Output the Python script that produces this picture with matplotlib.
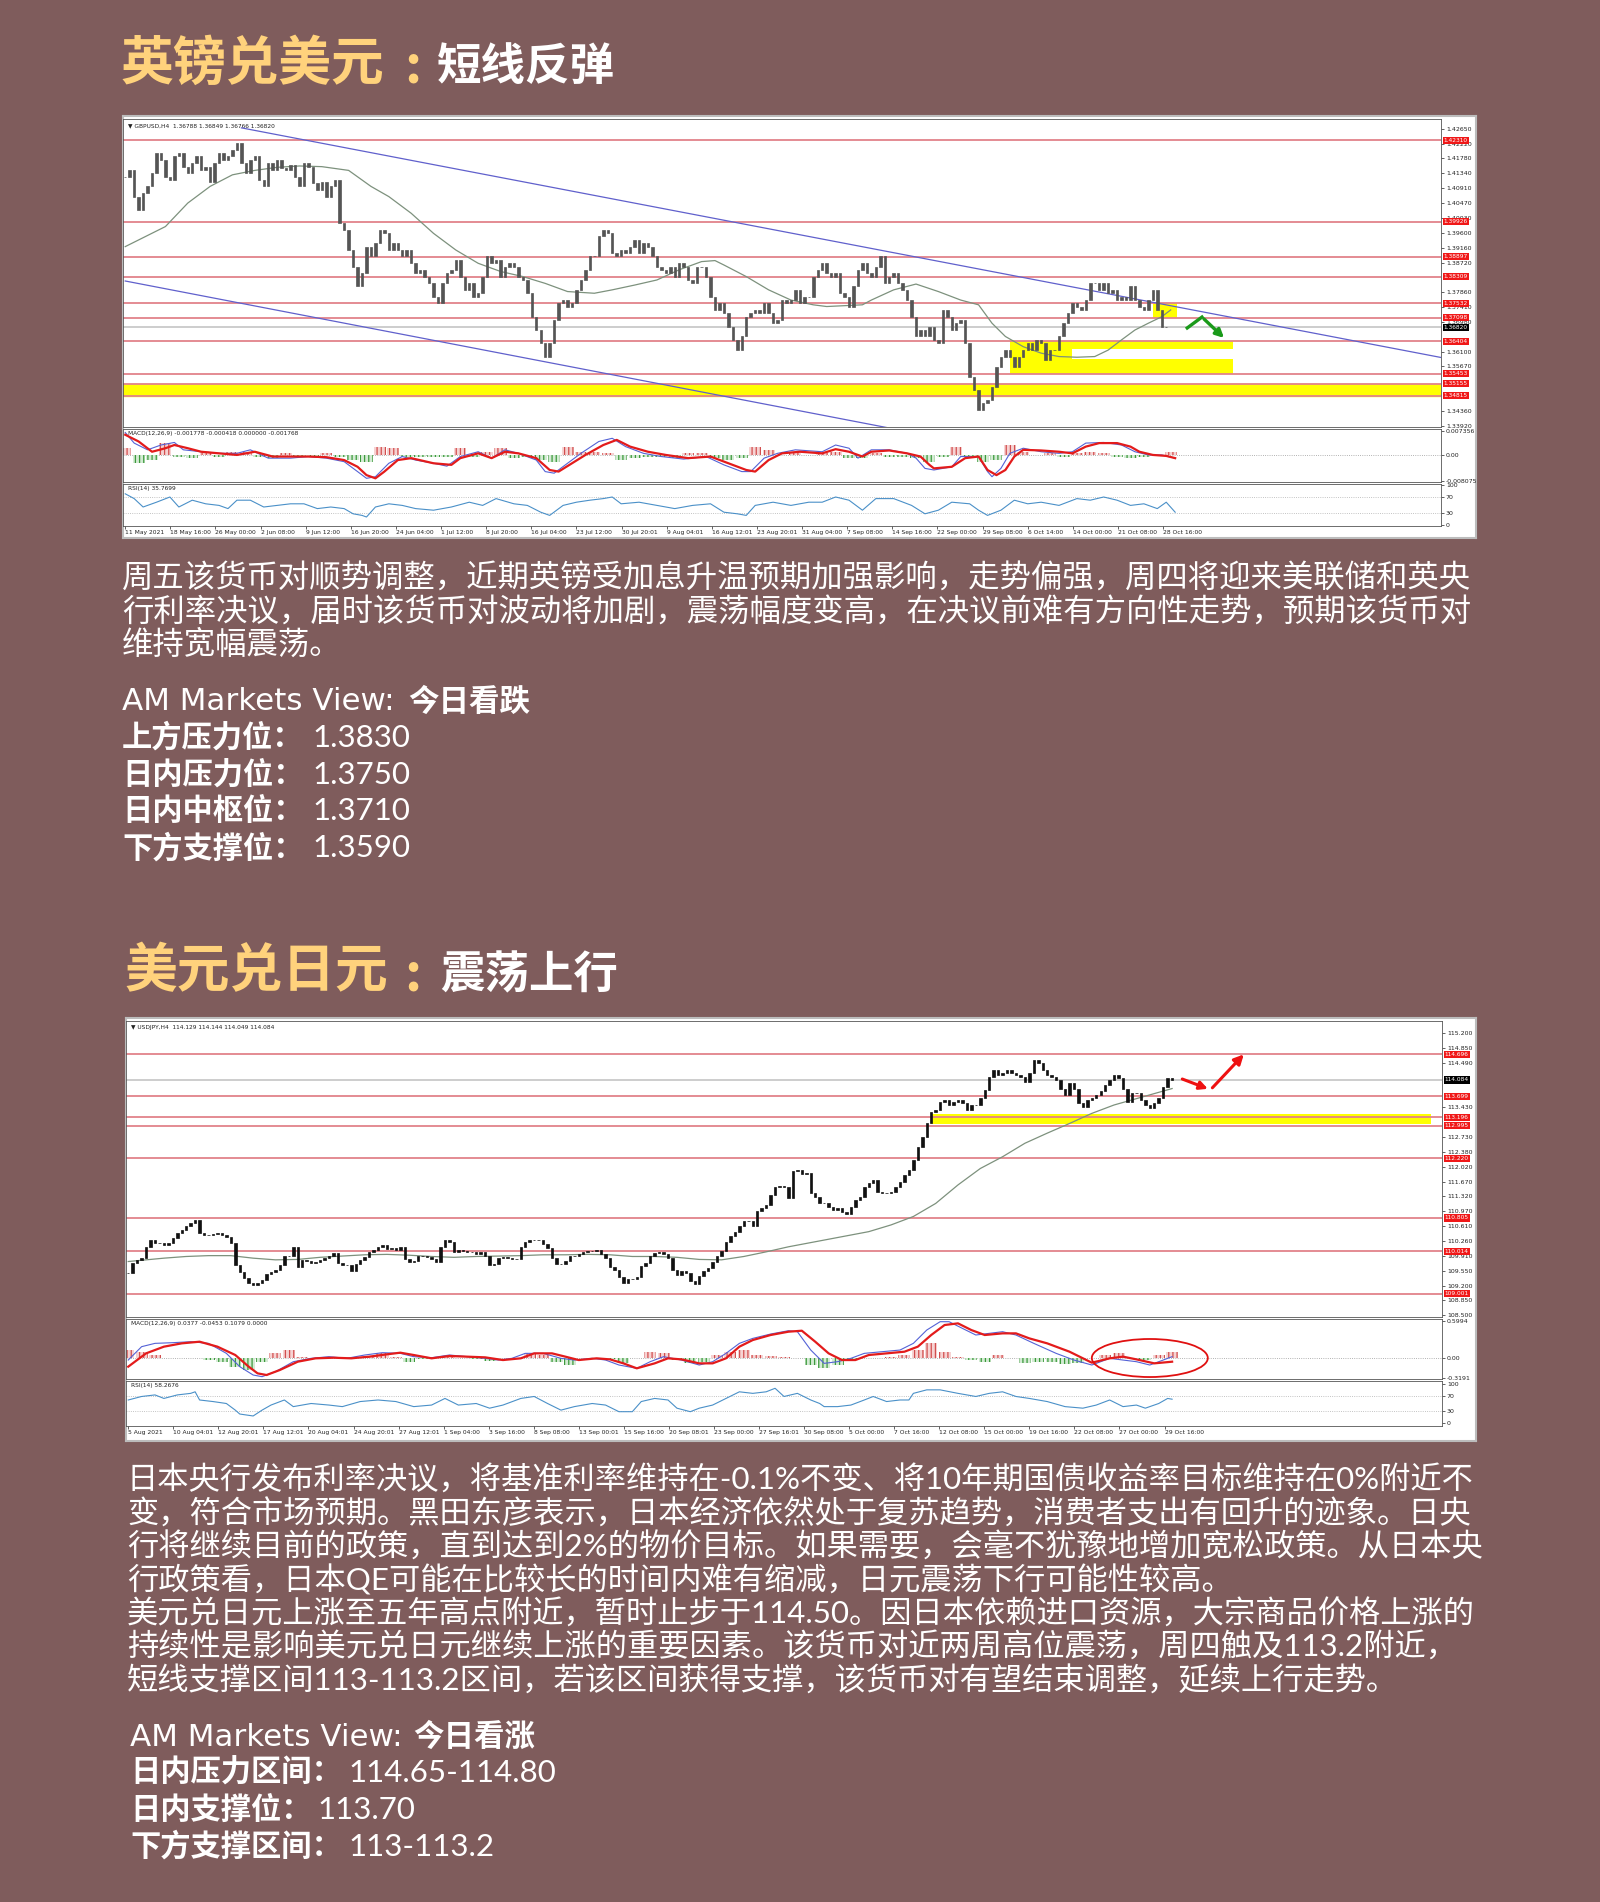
import numpy as np
import matplotlib.pyplot as plt
from matplotlib.patches import Ellipse, Rectangle

# --- GBPUSD H4 ---
gbp_close = [
    1.4125, 1.4145, 1.4066, 1.4027, 1.4076, 1.4096, 1.4135, 1.4194, 1.4174, 1.4125,
    1.4115, 1.4184, 1.4194, 1.4154, 1.4135, 1.4164, 1.4184, 1.4145, 1.4154, 1.4110,
    1.4164, 1.4194, 1.4174, 1.4184, 1.4203, 1.4223, 1.4164, 1.4135, 1.4174, 1.4184,
    1.4115, 1.4096, 1.4164, 1.4145, 1.4174, 1.4150, 1.4145, 1.4159, 1.4125, 1.4096,
    1.4164, 1.4154, 1.4105, 1.4086, 1.4110, 1.4066, 1.4096, 1.4115, 1.3988, 1.3968,
    1.3909, 1.3860, 1.3802, 1.3841, 1.3919, 1.3890, 1.3929, 1.3968, 1.3958, 1.3909,
    1.3929, 1.3909, 1.3890, 1.3909, 1.3870, 1.3841, 1.3851, 1.3831, 1.3811, 1.3772,
    1.3753, 1.3811, 1.3841, 1.3851, 1.3880, 1.3831, 1.3792, 1.3811, 1.3772, 1.3782,
    1.3831, 1.3890, 1.3870, 1.3880, 1.3831, 1.3860, 1.3870, 1.3860, 1.3831, 1.3821,
    1.3782, 1.3713, 1.3674, 1.3635, 1.3596, 1.3635, 1.3704, 1.3753, 1.3762, 1.3743,
    1.3753, 1.3792, 1.3821, 1.3851, 1.3890, 1.3890, 1.3949, 1.3968, 1.3958, 1.3900,
    1.3890, 1.3909, 1.3900, 1.3919, 1.3939, 1.3900, 1.3929, 1.3919, 1.3890, 1.3860,
    1.3851, 1.3841, 1.3860, 1.3831, 1.3870, 1.3860, 1.3821, 1.3811, 1.3860, 1.3860,
    1.3831, 1.3772, 1.3733, 1.3753, 1.3723, 1.3684, 1.3645, 1.3615, 1.3655, 1.3713,
    1.3723, 1.3733, 1.3723, 1.3753, 1.3723, 1.3694, 1.3704, 1.3762, 1.3753, 1.3762,
    1.3792, 1.3753, 1.3772, 1.3772,
    1.3831, 1.3851, 1.3870, 1.3841, 1.3831, 1.3841, 1.3782, 1.3772, 1.3743, 1.3802,
    1.3851, 1.3870, 1.3841, 1.3831, 1.3860, 1.3890, 1.3811, 1.3831, 1.3841, 1.3811,
    1.3792, 1.3762, 1.3713, 1.3655, 1.3674, 1.3655, 1.3684, 1.3645, 1.3635, 1.3733,
    1.3713, 1.3674, 1.3694, 1.3704, 1.3635, 1.3537, 1.3498, 1.3439, 1.3459, 1.3468,
    1.3508, 1.3566, 1.3596, 1.3615, 1.3596, 1.3566, 1.3596, 1.3615, 1.3635, 1.3615,
    1.3645, 1.3635, 1.3586, 1.3615, 1.3615, 1.3655, 1.3694, 1.3723, 1.3753, 1.3743,
    1.3733, 1.3762, 1.3811, 1.3811, 1.3792, 1.3811, 1.3782, 1.3792, 1.3762, 1.3772,
    1.3762, 1.3802, 1.3762, 1.3743, 1.3733, 1.3762, 1.3792, 1.3733, 1.3684, 1.3682,
]
gbp_ma_x = [0, 9, 14, 19, 24, 29, 34, 39, 44, 50, 55, 59, 64, 69, 74, 79, 84, 89, 94, 99,
            105, 109, 114, 119, 124, 129, 132, 134, 139, 144, 149, 154, 157, 165, 167, 172,
            177, 182, 187, 191, 194, 197, 201, 205, 209, 213, 217, 220, 223, 226, 229, 232, 234]
gbp_ma = [1.3919, 1.3978, 1.4047, 1.4096, 1.4130, 1.4143, 1.4152, 1.4156, 1.4154, 1.4143,
          1.4096, 1.4066, 1.4017, 1.3958, 1.3909, 1.3870, 1.3846, 1.3831, 1.3811, 1.3787,
          1.3782, 1.3792, 1.3806, 1.3821, 1.3851, 1.3875, 1.3878, 1.3865, 1.3831, 1.3792,
          1.3762, 1.3748, 1.3743, 1.3748, 1.3762, 1.3792, 1.3809, 1.3787, 1.3762, 1.3748,
          1.3694, 1.3655, 1.3625, 1.3606, 1.3596, 1.3594, 1.3596, 1.3615, 1.3645, 1.3674,
          1.3694, 1.3713, 1.3733]
gbp_macd_x = [0, 2, 5, 8, 11, 13, 17, 21, 25, 28, 32, 37, 41, 45, 49, 52, 54, 56, 59, 62,
              65, 69, 72, 75, 79, 82, 85, 88, 92, 94, 96, 99, 102, 106, 109, 112, 116, 120,
              125, 130, 134, 138, 140, 143, 146, 150, 156, 159, 162, 164, 167, 171, 175, 177,
              179, 181, 185, 187, 191, 193, 194, 196, 198, 201, 205, 209, 212, 215, 219, 223,
              226, 229, 232, 235]
gbp_macd = [0.0070, 0.0037, 0.0016, 0.0031, 0.0039, 0.0016, 0.0010, 0.0005, 0.0005, 0.0016,
            -0.0010, -0.0010, -0.0005, -0.0010, -0.0021, -0.0052, -0.0073, -0.0068, -0.0026, -0.0005,
            -0.0016, -0.0026, -0.0035, -0.0005, 0.0010, -0.0010, 0.0016, 0.0005, -0.0016, -0.0052,
            -0.0057, -0.0026, 0.0005, 0.0042, 0.0052, 0.0026, 0.0005, -0.0005, -0.0013, -0.0005,
            -0.0031, -0.0052, -0.0052, -0.0010, 0.0005, 0.0016, 0.0010, 0.0031, 0.0021, -0.0010,
            0.0016, 0.0016, 0.0005, -0.0010, -0.0042, -0.0047, -0.0037, -0.0005, -0.0005, -0.0052,
            -0.0068, -0.0042, 0.0005, 0.0021, 0.0010, 0.0005, 0.0010, 0.0037, 0.0039, 0.0031,
            0.0010, 0.0, 0.0, -0.0010]
gbp_sig_x = [0, 3, 6, 9, 11, 14, 17, 21, 25, 29, 33, 37, 41, 45, 49, 52, 54, 56, 58, 61,
             64, 69, 73, 75, 79, 82, 85, 88, 92, 95, 97, 100, 103, 107, 110, 113, 117, 121,
             126, 131, 135, 139, 141, 144, 147, 151, 156, 159, 162, 165, 167, 171, 175, 178,
             180, 181, 185, 188, 191, 193, 195, 197, 199, 201, 205, 209, 212, 215, 218, 222,
             225, 227, 230, 233, 235]
gbp_sig = [0.0063, 0.0042, 0.0010, 0.0021, 0.0031, 0.0021, 0.0010, 0.0005, 0.0, 0.0010,
           -0.0005, -0.0005, -0.0005, -0.0007, -0.0016, -0.0037, -0.0063, -0.0073, -0.0052, -0.0016,
           -0.0010, -0.0026, -0.0031, -0.0010, 0.0005, -0.0010, 0.0010, 0.0005, -0.0010, -0.0047,
           -0.0052, -0.0026, 0.0, 0.0031, 0.0047, 0.0026, 0.0010, 0.0, -0.0010, -0.0005,
           -0.0026, -0.0047, -0.0052, -0.0016, 0.0005, 0.0010, 0.0005, 0.0018, 0.0010, -0.0005,
           0.0010, 0.0014, 0.0005, -0.0005, -0.0031, -0.0042, -0.0037, -0.0010, -0.0005, -0.0047,
           -0.0063, -0.0047, -0.0005, 0.0016, 0.0014, 0.0010, 0.0005, 0.0026, 0.0037, 0.0037,
           0.0026, 0.0010, 0.0, -0.0003, -0.0010]
# histogram, one bar every 3 candles
gbp_hist = [0.0021, -0.0026, -0.0016, 0.0037, -0.0005, -0.0010, 0.0005, -0.0005, 0.0010, 0.0010,
            -0.0005, -0.0010, 0.0005, -0.0005, -0.0005, 0.0007, -0.0005, -0.0016, -0.0021, 0.0026,
            0.0021, -0.0005, -0.0005, -0.0005, -0.0005, 0.0021, -0.0005, 0.0010, 0.0021, -0.0010,
            -0.0005, -0.0016, -0.0021, 0.0026, 0.0010, 0.0010, 0.0007, -0.0016, -0.0010, -0.0005,
            -0.0005, -0.0010, 0.0005, 0.0005, -0.0010, -0.0016, -0.0010, 0.0026, 0.0016, 0.0,
            0.0005, 0.0, 0.0005, 0.0010, -0.0010, -0.0010, 0.0005, -0.0005, -0.0005, -0.0010,
            -0.0021, -0.0005, 0.0026, -0.0005, -0.0021, -0.0016, 0.0031, 0.0010, 0.0, 0.0005,
            -0.0005, 0.0005, 0.0010, 0.0005, -0.0005, -0.0010, -0.0005, 0.0, 0.0010]
gbp_rsi_x = [0, 2, 4, 7, 10, 12, 15, 18, 21, 23, 25, 28, 31, 34, 37, 40, 43, 46, 49, 51,
             53, 54, 56, 59, 62, 65, 69, 73, 77, 80, 83, 87, 90, 93, 95, 98, 101, 104, 107, 109,
             111, 115, 119, 123, 127, 131, 134, 137, 139, 141, 145, 149, 153, 156, 159, 162, 165,
             168, 172, 176, 179, 182, 185, 189, 191, 193, 196, 199, 202, 205, 209, 213, 216, 219,
             222, 225, 228, 231, 233, 235]
gbp_rsi = [78, 66, 45, 57, 70, 45, 62, 53, 49, 41, 62, 62, 45, 49, 53, 53, 41, 45, 41, 28,
           24, 20, 45, 53, 49, 41, 37, 45, 57, 49, 66, 53, 49, 32, 24, 49, 57, 62, 66, 70,
           53, 57, 49, 41, 49, 53, 32, 28, 24, 49, 57, 49, 57, 57, 70, 62, 37, 66, 66, 49,
           28, 37, 57, 53, 37, 24, 37, 62, 53, 57, 49, 66, 62, 70, 62, 49, 53, 41, 57, 32]
gbp_levels = [1.42310, 1.39926, 1.38897, 1.38309, 1.37532, 1.37098, 1.36404, 1.35453, 1.35155, 1.34815]
gbp_last = 1.36820
gbp_yticks = [1.42650, 1.42220, 1.41780, 1.41340, 1.40910, 1.40470, 1.40030, 1.39600, 1.39160,
              1.38720, 1.37860, 1.37410, 1.36980, 1.36100, 1.35670, 1.34360, 1.33920]
gbp_times = ['11 May 2021', '18 May 16:00', '26 May 00:00', '2 Jun 08:00', '9 Jun 12:00',
             '16 Jun 20:00', '24 Jun 04:00', '1 Jul 12:00', '8 Jul 20:00', '16 Jul 04:00',
             '23 Jul 12:00', '30 Jul 20:01', '9 Aug 04:01', '16 Aug 12:01', '23 Aug 20:01',
             '31 Aug 04:00', '7 Sep 08:00', '14 Sep 16:00', '22 Sep 00:00', '29 Sep 08:00',
             '6 Oct 14:00', '14 Oct 00:00', '21 Oct 08:00', '28 Oct 16:00']

# --- USDJPY H4 ---
jpy_close = [
    109.49, 109.73, 109.81, 109.85, 110.12, 110.27, 110.22, 110.20, 110.16, 110.20,
    110.32, 110.44, 110.53, 110.61, 110.69, 110.76, 110.44, 110.40, 110.40, 110.42,
    110.44, 110.40, 110.36, 110.20, 109.69, 109.53, 109.37, 109.27, 109.21, 109.25,
    109.33, 109.47, 109.53, 109.58, 109.69, 109.90, 109.89, 110.11, 109.65, 109.81,
    109.79, 109.73, 109.77, 109.81, 109.85, 109.90, 109.98, 109.73, 109.69, 109.69,
    109.55, 109.71, 109.81, 109.87, 110.00, 110.04, 110.11, 110.16, 110.06, 110.08,
    110.04, 110.12, 109.82, 109.77, 109.79, 109.89, 109.89, 109.87, 109.82, 109.77,
    110.11, 110.27, 110.24, 110.00, 110.04, 110.03, 110.00, 110.00, 109.96, 110.00,
    109.89, 109.69, 109.71, 109.85, 109.87, 109.85, 109.84, 109.82, 110.11, 110.24,
    110.28, 110.28, 110.27, 110.19, 110.08, 109.85, 109.71, 109.71, 109.79, 109.89,
    109.90, 109.95, 110.00, 110.03, 110.01, 110.04, 109.96, 109.85, 109.63, 109.57,
    109.41, 109.27, 109.35, 109.36, 109.41, 109.66, 109.74, 109.90, 109.98, 110.00,
    109.95, 109.85, 109.57, 109.45, 109.55, 109.49, 109.31, 109.23, 109.43, 109.54,
    109.61, 109.77, 109.89, 110.03, 110.24, 110.38, 110.46, 110.61, 110.74, 110.74,
    110.61, 110.98, 111.03, 111.11, 111.35, 111.53, 111.56, 111.55, 111.27, 111.91,
    111.95, 111.85, 111.88, 111.41, 111.30, 111.17,
    111.15, 111.07, 110.99, 111.03, 110.95, 110.91, 111.07, 111.23, 111.31, 111.55,
    111.63, 111.71, 111.43, 111.39, 111.39, 111.43, 111.55, 111.67, 111.83, 111.95,
    112.18, 112.50, 112.74, 113.05, 113.33, 113.37, 113.57, 113.61, 113.49, 113.57,
    113.61, 113.53, 113.37, 113.49, 113.49, 113.65, 113.85, 114.16, 114.32, 114.20,
    114.24, 114.32, 114.24, 114.20, 114.16, 114.04, 114.24, 114.56, 114.48, 114.32,
    114.20, 114.16, 114.08, 113.88, 113.73, 114.00, 113.88, 113.53, 113.45, 113.61,
    113.65, 113.73, 113.81, 113.96, 114.08, 114.20, 114.12, 113.88, 113.57, 113.77,
    113.77, 113.61, 113.49, 113.41, 113.53, 113.65, 113.92, 114.12, 114.08,
]
jpy_ma_x = [0, 8, 13, 18, 23, 28, 33, 38, 43, 48, 53, 58, 63, 68, 73, 78, 83, 88, 93, 98,
            103, 108, 113, 118, 123, 128, 133, 138, 143, 148, 155, 161, 166, 171, 176, 181,
            186, 191, 196, 201, 206, 211, 216, 221, 225, 229, 233, 234]
jpy_ma = [109.77, 109.85, 109.89, 109.91, 109.91, 109.85, 109.81, 109.82, 109.87, 109.90,
          109.93, 109.94, 109.92, 109.89, 109.87, 109.89, 109.90, 109.91, 109.93, 109.93,
          109.94, 109.93, 109.89, 109.89, 109.87, 109.82, 109.81, 109.89, 110.00, 110.12,
          110.26, 110.38, 110.48, 110.64, 110.84, 111.15, 111.59, 111.98, 112.26, 112.58,
          112.82, 113.05, 113.29, 113.49, 113.61, 113.73, 113.85, 113.88]
jpy_macd_x = [0, 3, 6, 10, 14, 18, 22, 25, 28, 30, 33, 37, 41, 45, 49, 53, 57, 61, 64, 68,
              72, 76, 80, 83, 86, 89, 93, 97, 100, 104, 107, 110, 114, 117, 120, 124, 128, 131,
              134, 137, 140, 144, 148, 150, 153, 156, 159, 162, 165, 169, 173, 176, 179, 182,
              184, 187, 190, 193, 196, 199, 203, 208, 212, 216, 220, 223, 226, 229, 232, 234]
jpy_macd = [-0.033, 0.185, 0.239, 0.250, 0.266, 0.239, 0.076, -0.141, -0.277, -0.304,
            -0.223, -0.060, -0.005, 0.022, -0.005, 0.049, 0.087, 0.076, 0.022, 0.005,
            0.049, 0.022, -0.005, -0.033, -0.005, 0.076, 0.076, -0.005, -0.033, -0.005,
            -0.033, -0.114, -0.168, -0.060, 0.022, -0.033, -0.114, -0.060, 0.076, 0.239,
            0.320, 0.391, 0.445, 0.429, 0.130, -0.087, -0.060, -0.005, 0.076, 0.103,
            0.130, 0.239, 0.456, 0.592, 0.592, 0.483, 0.375, 0.402, 0.429, 0.375,
            0.239, 0.076, -0.033, -0.114, -0.005, -0.033, -0.060, -0.114, -0.033, 0.022]
jpy_sig_x = [0, 4, 8, 12, 16, 20, 24, 27, 29, 31, 34, 38, 42, 46, 50, 54, 58, 61, 64, 68,
             72, 76, 80, 84, 88, 91, 95, 98, 101, 105, 108, 111, 114, 118, 121, 124, 128, 131,
             134, 137, 140, 144, 148, 151, 154, 157, 160, 163, 166, 170, 174, 177, 180, 183,
             186, 189, 192, 196, 199, 202, 206, 211, 216, 220, 223, 226, 230, 234]
jpy_sig = [-0.141, 0.076, 0.185, 0.239, 0.266, 0.185, 0.049, -0.141, -0.250, -0.277,
           -0.195, -0.060, -0.005, 0.005, -0.005, 0.022, 0.060, 0.087, 0.049, -0.005,
           0.033, 0.022, 0.011, -0.033, -0.005, 0.076, 0.076, 0.022, -0.033, -0.005,
           -0.022, -0.087, -0.168, -0.087, -0.005, -0.022, -0.087, -0.087, -0.005, 0.185,
           0.293, 0.375, 0.429, 0.445, 0.266, 0.076, -0.033, -0.033, 0.049, 0.076,
           0.103, 0.185, 0.375, 0.538, 0.565, 0.456, 0.375, 0.402, 0.402, 0.320,
           0.239, 0.103, -0.076, -0.005, 0.022, -0.022, -0.087, -0.060]
jpy_hist = [0.130, 0.103, 0.049, 0.005, 0.005, 0.005, -0.033, -0.060, -0.141, -0.195,
            -0.060, 0.076, 0.130, 0.022, 0.005, 0.005, -0.022, -0.005, 0.033, 0.076,
            0.022, -0.060, -0.022, 0.022, 0.011, -0.005, -0.022, -0.043, -0.005, 0.005,
            0.076, 0.049, -0.060, -0.114, -0.005, 0.005, -0.022, -0.087, -0.005, 0.103,
            0.076, -0.033, -0.087, -0.060, 0.049, 0.103, 0.130, 0.049, 0.033, 0.022,
            0.005, -0.114,
            -0.168, -0.114, -0.022, -0.005, 0.005, 0.022, 0.049, 0.130, 0.239, 0.103,
            0.022, -0.033, -0.060, 0.049, 0.005, -0.087, -0.060, -0.060, -0.098, -0.087,
            -0.005, 0.049, 0.076, -0.005, -0.033, 0.049, 0.103]
jpy_rsi_x = [0, 3, 6, 8, 11, 14, 15, 16, 19, 22, 24, 25, 28, 30, 32, 35, 37, 41, 45, 48,
             52, 56, 60, 64, 68, 71, 74, 78, 81, 84, 88, 91, 94, 97, 100, 104, 107, 110, 113,
             115, 118, 121, 123, 126, 128, 131, 134, 137, 140, 143, 145, 147, 150, 153, 155,
             156, 159, 162, 165, 167, 170, 173, 175, 176, 179, 182, 186, 190, 193, 196, 199,
             202, 206, 210, 214, 217, 220, 223, 226, 228, 231, 233, 234]
jpy_rsi = [59, 68, 72, 63, 72, 76, 80, 59, 55, 50, 33, 23, 18, 33, 46, 59, 42, 50, 46, 42,
           55, 59, 55, 42, 46, 63, 46, 50, 38, 46, 63, 68, 50, 33, 42, 50, 46, 29, 29, 55,
           63, 59, 38, 29, 38, 46, 63, 80, 76, 80, 89, 68, 76, 59, 50, 42, 42, 46, 59, 68,
           55, 59, 59, 76, 85, 85, 76, 68, 76, 80, 68, 63, 55, 42, 38, 46, 59, 42, 46, 38,
           50, 63, 61]
jpy_levels = [114.696, 113.699, 113.196, 112.995, 112.220, 110.805, 110.014, 109.001]
jpy_last = 114.084
jpy_yticks = [115.200, 114.850, 114.490, 113.430, 112.730, 112.380, 112.020, 111.670,
              111.320, 110.970, 110.610, 110.260, 109.910, 109.550, 109.200, 108.850, 108.500]
jpy_times = ['5 Aug 2021', '10 Aug 04:01', '12 Aug 20:01', '17 Aug 12:01', '20 Aug 04:01',
             '24 Aug 20:01', '27 Aug 12:01', '1 Sep 04:00', '3 Sep 16:00', '8 Sep 08:00',
             '13 Sep 00:01', '15 Sep 16:00', '20 Sep 08:01', '23 Sep 00:00', '27 Sep 16:01',
             '30 Sep 08:00', '5 Oct 00:00', '7 Oct 16:00', '12 Oct 08:00', '15 Oct 00:00',
             '19 Oct 16:00', '22 Oct 08:00', '27 Oct 00:00', '29 Oct 16:00']

# --- 文本 ---
title1 = ('英镑兑美元', '短线反弹')
title2 = ('美元兑日元', '震荡上行')
body1 = ['周五该货币对顺势调整，近期英镑受加息升温预期加强影响，走势偏强，周四将迎来美联储和英央',
         '行利率决议，届时该货币对波动将加剧，震荡幅度变高，在决议前难有方向性走势，预期该货币对',
         '维持宽幅震荡。']
body2 = ['日本央行发布利率决议，将基准利率维持在-0.1%不变、将10年期国债收益率目标维持在0%附近不',
         '变，符合市场预期。黑田东彦表示，日本经济依然处于复苏趋势，消费者支出有回升的迹象。日央',
         '行将继续目前的政策，直到达到2%的物价目标。如果需要，会毫不犹豫地增加宽松政策。从日本央',
         '行政策看，日本QE可能在比较长的时间内难有缩减，日元震荡下行可能性较高。',
         '美元兑日元上涨至五年高点附近，暂时止步于114.50。因日本依赖进口资源，大宗商品价格上涨的',
         '持续性是影响美元兑日元继续上涨的重要因素。该货币对近两周高位震荡，周四触及113.2附近，',
         '短线支撑区间113-113.2区间，若该区间获得支撑，该货币对有望结束调整，延续上行走势。']
view1 = '今日看跌'
view2 = '今日看涨'
keys1 = ['上方压力位：', '日内压力位：', '日内中枢位：', '下方支撑位：']
vals1 = ['1.3830', '1.3750', '1.3710', '1.3590']
keys2 = ['日内压力区间：', '日内支撑位：', '下方支撑区间：']
vals2 = ['114.65-114.80', '113.70', '113-113.2']

W, H = 1600, 1902
BG = '#7f5c5c'
GOLD = '#ffd27c'
CJK = 'Noto Sans CJK SC'
MIX = ['Lato', 'Noto Sans CJK SC']
plt.rcParams['hatch.linewidth'] = 0.9

fig = plt.figure(figsize=(W / 100, H / 100), dpi=100, facecolor=BG)


def px(x0, y0, x1, y1):
    return [x0 / W, 1 - y1 / H, (x1 - x0) / W, (y1 - y0) / H]


def frame(ax):
    ax.set_facecolor('white')
    for s in ax.spines.values():
        s.set_color('#555555')
        s.set_linewidth(0.6)
    ax.set_xlim(-0.5, 294.5)
    ax.yaxis.tick_right()
    ax.tick_params(axis='y', labelsize=4.5, length=2, width=0.5, pad=1.5, colors='#222222')
    ax.tick_params(axis='x', bottom=False, labelbottom=False)


def draw_chart(box, xl, xr, ym, yd, yr, close, ma_x, ma, ylim, yticks, fmt,
               levels, last, macd_x, macd, sig_x, sig, hist, dlim, dticks,
               rsi_x, rsi, rlim, times, hdr, candle_col):
    bg = fig.add_axes(px(*box))
    bg.set_xticks([])
    bg.set_yticks([])
    bg.set_facecolor('white')
    for s in bg.spines.values():
        s.set_color('#bcbcbc')
        s.set_linewidth(1.5)

    # 主图
    ax = fig.add_axes(px(xl, ym[0], xr, ym[1]))
    frame(ax)
    ax.set_ylim(*ylim)
    ax.set_yticks(yticks)
    ax.set_yticklabels([fmt % v for v in yticks])
    c = np.array(close)
    o = np.r_[c[0], c[:-1]]
    x = np.arange(len(c))
    ax.bar(x, c - o, bottom=o, width=0.55, color=candle_col, edgecolor=candle_col,
           linewidth=0.5, zorder=4)
    ax.plot(ma_x, ma, color='#7d917d', lw=0.9, zorder=3)
    ytr = ax.get_yaxis_transform()
    for lv in levels:
        ax.axhline(lv, color='#e2828a', lw=1.3, zorder=2)
        ax.text(1.002, lv, fmt % lv, transform=ytr, fontsize=4.2, color='white',
                va='center', ha='left', clip_on=False, zorder=10,
                bbox=dict(boxstyle='square,pad=0.18', fc='#f01818', ec='none'))
    ax.axhline(last, color='#c9c9c9', lw=1.3, zorder=2)
    ax.text(1.002, last, fmt % last, transform=ytr, fontsize=4.2, color='white',
            va='center', ha='left', clip_on=False, zorder=10,
            bbox=dict(boxstyle='square,pad=0.18', fc='black', ec='none'))
    ax.text(0.004, 0.985, '\u25bc ' + hdr[0], transform=ax.transAxes, fontsize=4.2,
            va='top', color='#222222')

    # MACD
    ad = fig.add_axes(px(xl, yd[0], xr, yd[1]))
    frame(ad)
    ad.set_ylim(*dlim)
    ad.set_yticks(dticks)
    ad.set_yticklabels(hdr[3])
    hx = np.arange(len(hist)) * 3
    hv = np.array(hist)
    pos = hv >= 0
    ad.bar(hx[pos], hv[pos], width=2.7, color='#f6d3d3', edgecolor='#d24f4f',
           hatch='||||', linewidth=0, zorder=2)
    ad.bar(hx[~pos], hv[~pos], width=2.7, color='#d4ebd4', edgecolor='#3d9a3d',
           hatch='||||', linewidth=0, zorder=2)
    ad.axhline(0, color='#999999', lw=0.6, ls=':', zorder=1)
    ad.plot(macd_x, macd, color='#5462d6', lw=0.8, zorder=3)
    ad.plot(sig_x, sig, color='#e31b1b', lw=1.6, zorder=4)
    ad.text(0.004, 0.96, hdr[1], transform=ad.transAxes, fontsize=4.2, va='top', color='#222222')

    # RSI
    ar = fig.add_axes(px(xl, yr[0], xr, yr[1]))
    frame(ar)
    ar.set_ylim(*rlim)
    ar.set_yticks([100, 70, 30, 0])
    ar.set_yticklabels(['100', '70', '30', '0'])
    ar.axhline(70, color='#b0b0b0', lw=0.6, ls=':')
    ar.axhline(30, color='#b0b0b0', lw=0.6, ls=':')
    ar.plot(rsi_x, rsi, color='#4a90c8', lw=0.8)
    ar.text(0.004, 0.95, hdr[2], transform=ar.transAxes, fontsize=4.2, va='top', color='#222222')
    ar.tick_params(axis='x', bottom=True, labelbottom=True, labelsize=4.3, length=2,
                   width=0.5, pad=1, colors='#222222')
    ar.set_xticks(np.arange(len(times)) * 10.1)
    ar.set_xticklabels(times, ha='left')
    return ax, ad


ax1, ad1 = draw_chart((123, 116, 1476, 538), 123, 1441, (119, 427), (429, 482), (484, 526),
                      gbp_close, gbp_ma_x, gbp_ma, (1.3389, 1.4294), gbp_yticks, '%.5f',
                      gbp_levels, gbp_last, gbp_macd_x, gbp_macd, gbp_sig_x, gbp_sig,
                      gbp_hist, (-0.00845, 0.0081), [0.007356, 0.0, -0.008075],
                      gbp_rsi_x, gbp_rsi, (-2.5, 102.5), gbp_times,
                      ('GBPUSD,H4  1.36788 1.36849 1.36766 1.36820',
                       'MACD(12,26,9) -0.001778 -0.000418 0.000000 -0.001768',
                       'RSI(14) 35.7699', ['0.007356', '0.00', '-0.008075']),
                      '#555555')

# GBPUSD 标注
ax1.axhspan(1.34815, 1.35155, color='#ffff00', zorder=1)
ax1.add_patch(Rectangle((198, 1.35453), 50, 1.36404 - 1.35453, fc='#ffff00', ec='none', zorder=1))
ax1.add_patch(Rectangle((212, 1.35889), 36, 1.36183 - 1.35889, fc='white', ec='none', zorder=1.5))
ax1.add_patch(Rectangle((230, 1.37098), 5.5, 1.37532 - 1.37098, fc='#ffff00', ec='none', zorder=1))
ax1.plot([26, 295], [1.4268, 1.3592], color='#6060cc', lw=0.9, zorder=3)
ax1.plot([0, 171], [1.3818, 1.3386], color='#6060cc', lw=0.9, zorder=3)
ax1.plot([237.7, 241], [1.3680, 1.3712], color='#1a9a1a', lw=2.4, zorder=6)
ax1.annotate('', xy=(246.4, 1.3645), xytext=(241, 1.3712), zorder=6,
             arrowprops=dict(arrowstyle='-|>', color='#1a9a1a', lw=2.4, mutation_scale=12))

ax2, ad2 = draw_chart((126, 1018, 1476, 1441), 126, 1442, (1021, 1317), (1319, 1379), (1381, 1426),
                      jpy_close, jpy_ma_x, jpy_ma, (108.452, 115.485), jpy_yticks, '%.3f',
                      jpy_levels, jpy_last, jpy_macd_x, jpy_macd, jpy_sig_x, jpy_sig,
                      jpy_hist, (-0.342, 0.636), [0.5994, 0.0, -0.3191],
                      jpy_rsi_x, jpy_rsi, (-7.7, 107.7), jpy_times,
                      ('USDJPY,H4  114.129 114.144 114.049 114.084',
                       'MACD(12,26,9) 0.0377 -0.0453 0.1079 0.0000',
                       'RSI(14) 58.2676', ['0.5994', '0.00', '-0.3191']),
                      '#111111')

# USDJPY 标注
ax2.add_patch(Rectangle((180, 113.03), 112, 0.24, fc='#ffff00', ec='none', zorder=1))
ax2.annotate('', xy=(242.6, 113.85), xytext=(235.7, 114.13), zorder=6,
             arrowprops=dict(arrowstyle='-|>', color='#ee1111', lw=2.2, mutation_scale=12))
ax2.annotate('', xy=(250.5, 114.74), xytext=(242.6, 113.85), zorder=6,
             arrowprops=dict(arrowstyle='-|>', color='#ee1111', lw=2.2, mutation_scale=14))
ad2.add_patch(Ellipse((229, 0.0), 26, 0.62, fill=False, ec='#e01010', lw=1.3, zorder=5))

# --- 文字层 ---
at = fig.add_axes([0, 0, 1, 1])
at.set_xlim(0, W)
at.set_ylim(H, 0)
at.axis('off')

for (gold, white), y0 in [(title1, 64), (title2, 972)]:
    at.text(121 if y0 < 500 else 124, y0, gold, color=GOLD, fontsize=38, family=CJK,
            weight='bold', va='center')
    at.text(413, y0 + 3, ':', color=GOLD, fontsize=38, family=CJK, weight='bold',
            va='center', ha='center')
    at.text(437 if y0 < 500 else 440, y0 + 3, white, color='white', fontsize=32,
            family=CJK, weight='bold', va='center')

for i, s in enumerate(body1):
    at.text(122, 577 + i * 33.3, s, color='white', fontsize=22.6, family=MIX, va='center')
for i, s in enumerate(body2):
    at.text(127, 1480 + i * 33.4, s, color='white', fontsize=22.5, family=MIX, va='center')

at.text(122, 702, 'AM Markets View:', color='white', fontsize=22.3, family='DejaVu Sans',
        va='center')
at.text(408, 702, view1, color='white', fontsize=22, family=CJK, weight='bold', va='center')
for i, (k, v) in enumerate(zip(keys1, vals1)):
    yy = 738 + i * 36.7
    at.text(122, yy, k, color='white', fontsize=21.8, family=CJK, weight='bold', va='center')
    at.text(312, yy, v, color='white', fontsize=22.5, family=MIX, va='center')

at.text(130, 1737, 'AM Markets View:', color='white', fontsize=22.3, family='DejaVu Sans',
        va='center')
at.text(413, 1737, view2, color='white', fontsize=22, family=CJK, weight='bold', va='center')
val_x2 = [348, 317, 348]
for i, (k, v) in enumerate(zip(keys2, vals2)):
    yy = 1773 + i * 37
    at.text(130, yy, k, color='white', fontsize=21.8, family=CJK, weight='bold', va='center')
    at.text(val_x2[i], yy, v, color='white', fontsize=22.5, family=MIX, va='center')

plt.savefig('out.png', dpi=100, facecolor=BG)
